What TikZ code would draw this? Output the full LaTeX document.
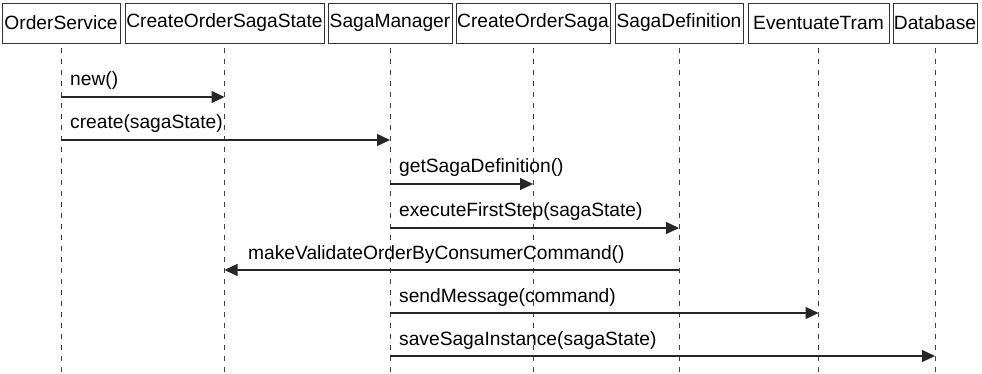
\documentclass[tikz,border=0pt]{standalone}
\usepackage{fontspec}
\setmainfont{Liberation Sans}
\usetikzlibrary{arrows.meta}
\begin{document}
\begin{tikzpicture}[x=1pt,y=-1pt,
  obj/.style={draw=black!80,line width=0.9pt,inner sep=0pt,minimum height=40pt,font=\fontsize{19.2}{22}\selectfont},
  lifeline/.style={draw=black!75,line width=0.8pt,dash pattern=on 5pt off 6pt},
  msg/.style={draw=black!85,line width=1.2pt,-{Triangle[length=13pt,width=12pt]}},
  lbl/.style={anchor=base west,inner sep=0pt,font=\fontsize{19.2}{22}\selectfont}]
\useasboundingbox (0,0) rectangle (982,374);
\fill[white] (0,0) rectangle (982,374);
\node[obj,minimum width=118pt] (os) at (61,23) {OrderService};
\node[obj,minimum width=199pt] (st) at (224.5,23) {CreateOrderSagaState};
\node[obj,minimum width=124pt] (sm) at (390,23) {SagaManager};
\node[obj,minimum width=154pt] (cs) at (533,23) {CreateOrderSaga};
\node[obj,minimum width=128pt] (sd) at (679,23) {SagaDefinition};
\node[obj,minimum width=141pt] (et) at (818.5,23) {EventuateTram};
\node[obj,minimum width=84pt] (db) at (935,23) {Database};
\coordinate (bot) at (0,374);
\foreach \n in {os,st,sm,cs,sd,et,db}{
  \draw[lifeline] ([yshift=-5pt]\n.south) -- (\n |- bot);
}
% messages
\draw[msg] (os |- 0,97) -- (st |- 0,97);
\node[lbl] (l1) at (70,86) {new()};
\draw[msg] (os |- 0,140) -- (sm |- 0,140);
\node[lbl] (l2) at (70,129) {create(sagaState)};
\draw[msg] (sm |- 0,184) -- (cs |- 0,184);
\node[lbl] (l3) at (399,173) {getSagaDefinition()};
\draw[msg] (sm |- 0,228) -- (sd |- 0,228);
\node[lbl] (l4) at (399,217) {executeFirstStep(sagaState)};
\draw[msg] (sd |- 0,270) -- (st |- 0,270);
\node[lbl] (l5) at (248,259) {makeValidateOrderByConsumerCommand()};
\draw[msg] (sm |- 0,313) -- (et |- 0,313);
\node[lbl] (l6) at (399,302) {sendMessage(command)};
\draw[msg] (sm |- 0,356) -- (db |- 0,356);
\node[lbl] (l7) at (399,345) {saveSagaInstance(sagaState)};
\end{tikzpicture}
\end{document}
